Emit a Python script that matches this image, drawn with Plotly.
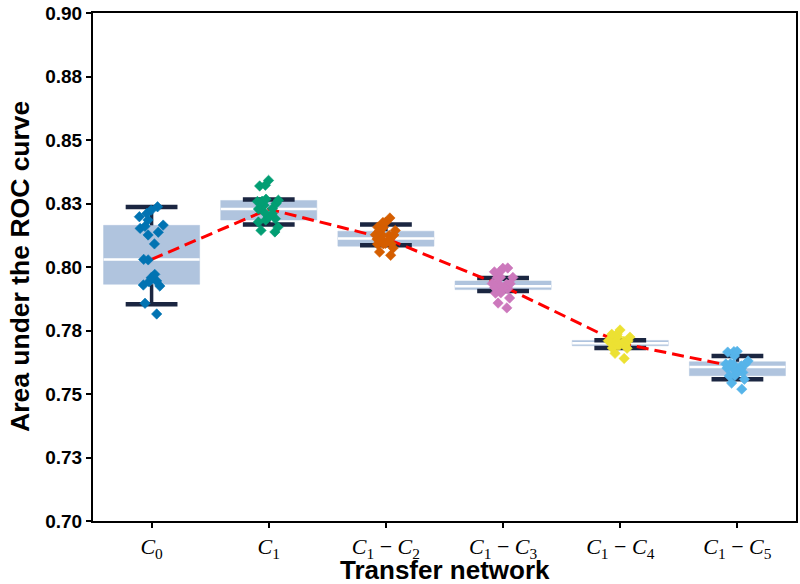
import plotly.graph_objects as go

# ---------------- data ----------------
categories = ["C0", "C1", "C1-C2", "C1-C3", "C1-C4", "C1-C5"]
tick_labels = [
    "<i>C</i><sub>0</sub>",
    "<i>C</i><sub>1</sub>",
    "<i>C</i><sub>1</sub> − <i>C</i><sub>2</sub>",
    "<i>C</i><sub>1</sub> − <i>C</i><sub>3</sub>",
    "<i>C</i><sub>1</sub> − <i>C</i><sub>4</sub>",
    "<i>C</i><sub>1</sub> − <i>C</i><sub>5</sub>",
]
y_tick_vals = [0.70, 0.725, 0.75, 0.775, 0.80, 0.825, 0.85, 0.875, 0.90]
y_tick_text = ["0.70", "0.73", "0.75", "0.78", "0.80", "0.83", "0.85", "0.88", "0.90"]

auc_c0 = [0.8237, 0.8224, 0.8211, 0.8198, 0.8185, 0.8165, 0.8160, 0.8152, 0.8137, 0.8126,
          0.8091, 0.8030, 0.8028, 0.7971, 0.7958, 0.7945, 0.7942, 0.7929, 0.7925, 0.7857, 0.7815]
auc_c1 = [0.8341, 0.8322, 0.8319, 0.8267, 0.8259, 0.8258, 0.8263, 0.8250, 0.8243, 0.8230,
          0.8228, 0.8215, 0.8210, 0.8197, 0.8190, 0.8185, 0.8177, 0.8157, 0.8144, 0.8138]
auc_c1_c2 = [0.8193, 0.8176, 0.8175, 0.8157, 0.8156, 0.8144, 0.8143, 0.8127, 0.8126, 0.8125,
             0.8124, 0.8110, 0.8109, 0.8108, 0.8093, 0.8092, 0.8091, 0.8090, 0.8075, 0.8059, 0.8046]
auc_c1_c3 = [0.7996, 0.7995, 0.7982, 0.7981, 0.7960, 0.7959, 0.7958, 0.7935, 0.7934, 0.7933,
             0.7932, 0.7919, 0.7918, 0.7917, 0.7916, 0.7915, 0.7898, 0.7897, 0.7878, 0.7858, 0.7839]
auc_c1_c4 = [0.7752, 0.7736, 0.7735, 0.7725, 0.7724, 0.7723, 0.7710, 0.7709, 0.7708, 0.7707,
             0.7706, 0.7696, 0.7695, 0.7694, 0.7693, 0.7692, 0.7681, 0.7680, 0.7660, 0.7640]
auc_c1_c5 = [0.7668, 0.7667, 0.7665, 0.7650, 0.7630, 0.7619, 0.7618, 0.7617, 0.7616, 0.7610,
             0.7602, 0.7601, 0.7600, 0.7587, 0.7585, 0.7573, 0.7571, 0.7558, 0.7543, 0.7519]

box_q1 = [0.7932, 0.8185, 0.8082, 0.7911, 0.7690, 0.7572]
box_median = [0.8030, 0.8228, 0.8112, 0.7924, 0.7700, 0.7606]
box_q3 = [0.8164, 0.8262, 0.8141, 0.7945, 0.7711, 0.7627]
whisker_low = [0.7853, 0.8167, 0.8086, 0.7906, 0.7681, 0.7558]
whisker_high = [0.8236, 0.8266, 0.8167, 0.7957, 0.7712, 0.7650]

# ---------------- style ----------------
point_colors = ["#0173b2", "#029e73", "#d55e00", "#cc78bc", "#ece133", "#56b4e9"]
BOX_FILL = "#b0c4de"
CAP_COLOR = "#1b2641"
SANS = "Liberation Sans"
SERIF = "Liberation Serif"

series = [auc_c0, auc_c1, auc_c1_c2, auc_c1_c3, auc_c1_c4, auc_c1_c5]
invisible = dict(size=1, color="rgba(0,0,0,0)")

fig = go.Figure()

# boxes (quartiles), outline in the fill colour
fig.add_trace(go.Box(
    x=categories, q1=box_q1, median=box_median, q3=box_q3,
    lowerfence=box_q1, upperfence=box_q3,
    width=0.82, fillcolor=BOX_FILL,
    line=dict(color=BOX_FILL, width=0.5), whiskerwidth=0,
    boxpoints=False, showlegend=False, hoverinfo="skip"))
# white median lines
fig.add_trace(go.Box(
    x=categories, q1=box_median, median=box_median, q3=box_median,
    lowerfence=box_median, upperfence=box_median,
    width=0.82, fillcolor="white",
    line=dict(color="white", width=2.5), whiskerwidth=0,
    boxpoints=False, showlegend=False, hoverinfo="skip"))

# upper whisker stems (from q3 up to the upper whisker)
fig.add_trace(go.Scatter(
    x=categories, y=whisker_high, mode="markers", marker=invisible,
    error_y=dict(type="data", symmetric=False,
                 array=[0] * len(categories),
                 arrayminus=[max(h - q, 0) for h, q in zip(whisker_high, box_q3)],
                 color=CAP_COLOR, thickness=3.5, width=0),
    hoverinfo="skip", showlegend=False))
# lower whisker stems (from the lower whisker up to q1)
fig.add_trace(go.Scatter(
    x=categories, y=whisker_low, mode="markers", marker=invisible,
    error_y=dict(type="data", symmetric=False,
                 array=[max(q - l, 0) for q, l in zip(box_q1, whisker_low)],
                 arrayminus=[0] * len(categories),
                 color=CAP_COLOR, thickness=3.5, width=0),
    hoverinfo="skip", showlegend=False))

# whisker caps
for vals in (whisker_high, whisker_low):
    fig.add_trace(go.Scatter(
        x=categories, y=vals, mode="markers",
        marker=dict(symbol="line-ew", size=37,
                    line=dict(color=CAP_COLOR, width=4.5)),
        hoverinfo="skip", showlegend=False))

# dashed red line through the medians
fig.add_trace(go.Scatter(
    x=categories, y=box_median, mode="lines",
    line=dict(color="#ff0000", width=3, dash="12px,6px"),
    hoverinfo="skip", showlegend=False))

# individual points, on an overlaid (identical) subplot so they sit on top
for cat, vals, col in zip(categories, series, point_colors):
    fig.add_trace(go.Box(
        x=[cat] * len(vals), y=vals, width=0.82,
        xaxis="x2", yaxis="y2",
        boxpoints="all", jitter=0.3, pointpos=0,
        fillcolor="rgba(0,0,0,0)", line=dict(width=0, color="rgba(0,0,0,0)"),
        marker=dict(symbol="diamond", size=8, color=col,
                    line=dict(width=0.6, color=col)),
        showlegend=False))

FIG_W, FIG_H = 800, 584
PLOT_L, PLOT_R, PLOT_T, PLOT_B = 93, 796, 13, 521
plot_w = PLOT_R - PLOT_L
plot_h = PLOT_B - PLOT_T

fig.update_layout(
    width=FIG_W, height=FIG_H,
    margin=dict(l=PLOT_L, r=FIG_W - PLOT_R, t=PLOT_T, b=FIG_H - PLOT_B),
    plot_bgcolor="white", paper_bgcolor="white",
    boxmode="overlay", showlegend=False,
    font=dict(family=SANS, color="black"),
    xaxis=dict(
        type="category", categoryorder="array", categoryarray=categories,
        range=[-0.5, 5.5], automargin=False,
        tickvals=categories, ticktext=tick_labels,
        tickfont=dict(family=SERIF, size=22, color="black"),
        ticks="outside", ticklen=5, tickwidth=1.5, tickcolor="black",
        showline=True, mirror=True, linecolor="black", linewidth=2,
        showgrid=False, zeroline=False,
    ),
    yaxis=dict(
        range=[0.70, 0.90], automargin=False, ticklabeloverflow="allow",
        tickvals=y_tick_vals, ticktext=["<b>%s</b>" % t for t in y_tick_text],
        tickfont=dict(family=SANS, size=19, color="black"),
        ticks="outside", ticklen=5, tickwidth=1.5, tickcolor="black",
        showline=True, mirror=True, linecolor="black", linewidth=2,
        showgrid=False, zeroline=False,
    ),
    xaxis2=dict(type="category", categoryorder="array", categoryarray=categories,
                range=[-0.5, 5.5], overlaying="x", visible=False),
    yaxis2=dict(range=[0.70, 0.90], overlaying="y", visible=False),
    annotations=[
        dict(text="<b>Area under the ROC curve</b>", textangle=-90,
             xref="paper", yref="paper",
             x=(20 - PLOT_L) / plot_w, y=0.5, xanchor="center", yanchor="middle",
             showarrow=False, font=dict(family=SANS, size=26.5, color="black")),
        dict(text="<b>Transfer network</b>",
             xref="paper", yref="paper",
             x=0.5, y=(PLOT_B - 570) / plot_h, xanchor="center", yanchor="middle",
             showarrow=False, font=dict(family=SANS, size=26, color="black")),
    ],
)

# remove the default 8px page margin so the figure fills the window exactly
fig.write_html("out.html", config={"displayModeBar": False},
               post_script="document.body.style.margin='0';")
